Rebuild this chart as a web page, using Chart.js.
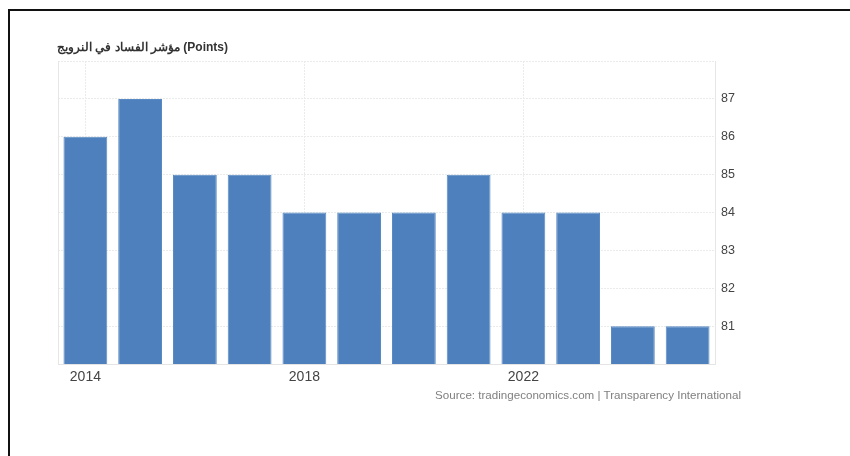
<!DOCTYPE html>
<html>
<head>
<meta charset="utf-8">
<script src="https://cdn.jsdelivr.net/npm/chart.js@4"></script>
<style>
  html, body { margin: 0; padding: 0; background: #fff; }
  body { width: 850px; height: 456px; position: relative; overflow: hidden; font-family: "Liberation Sans", Arial, sans-serif; }
  #frame { position: absolute; left: 8px; top: 9px; right: -4px; bottom: -4px; border-top: 2px solid #111; border-left: 2px solid #111; }
  #title { position: absolute; left: 57px; top: 40px; font-size: 12px; font-weight: bold; color: #333; white-space: nowrap; }
  #source { position: absolute; right: 109px; top: 388px; font-size: 11.6px; color: #808080; white-space: nowrap; }
  #wrap { position: absolute; left: 0; top: 0; width: 850px; height: 456px; }
</style>
</head>
<body>
<div id="frame"></div>
<div id="wrap"><canvas id="c" width="850" height="456"></canvas></div>
<div id="title">مؤشر الفساد في النرويج (Points)</div>
<div id="source">Source: tradingeconomics.com | Transparency International</div>
<script>
// Corruption Perceptions Index, Norway (points)
const years = ['2014','2015','2016','2017','2018','2019','2020','2021','2022','2023','2024','2025'];
const scores = [86, 87, 85, 85, 84, 84, 84, 85, 84, 84, 81, 81];
const yTicks = [81, 82, 83, 84, 85, 86, 87];
const yMin = 80, yMax = 88;

const gridColor = '#ebebeb';

new Chart(document.getElementById('c'), {
  type: 'bar',
  data: {
    labels: years,
    datasets: [{
      data: scores,
      backgroundColor: '#4d80bd',
      borderColor: '#5a8ac4',
      borderWidth: 1,
      barPercentage: 0.8,
      categoryPercentage: 1.0
    }]
  },
  options: {
    responsive: false,
    animation: false,
    layout: { padding: { left: 58, top: 61, right: 75, bottom: 68 } },
    plugins: { legend: { display: false }, tooltip: { enabled: false }, title: { display: false } },
    scales: {
      x: {
        offset: true,
        grid: {
          offset: false,
          drawTicks: false,
          lineWidth: 1,
          color: ctx => (ctx.index % 4 === 0 ? gridColor : 'rgba(0,0,0,0)')
        },
        border: { display: true, color: '#e4e4e4', width: 1, dash: [2, 1] },
        ticks: {
          autoSkip: false,
          maxRotation: 0,
          padding: 5,
          color: '#444',
          font: { family: '"Liberation Sans", Arial, sans-serif', size: 14 },
          callback: (v, i) => (i % 4 === 0 ? years[i] : '')
        },
        afterFit: s => { s.height = 24; }
      },
      y: {
        position: 'right',
        min: yMin,
        max: yMax,
        afterBuildTicks: s => { s.ticks = [yMin, ...yTicks, yMax].map(v => ({ value: v })); },
        grid: {
          drawTicks: false,
          color: gridColor,
          lineWidth: 1
        },
        border: { display: true, color: '#e6e6e6', width: 1, dash: [2, 1] },
        ticks: {
          padding: 6,
          color: '#444',
          font: { family: '"Liberation Sans", Arial, sans-serif', size: 12.5 },
          callback: v => (yTicks.includes(v) ? String(v) : '')
        },
        afterFit: s => { s.width = 60; }
      },
      yLeft: {
        position: 'left',
        min: yMin,
        max: yMax,
        grid: { display: false, drawTicks: false },
        border: { display: true, color: '#e6e6e6', width: 1 },
        ticks: { display: false },
        afterFit: s => { s.width = 0; }
      }
    }
  }
});
</script>
</body>
</html>
